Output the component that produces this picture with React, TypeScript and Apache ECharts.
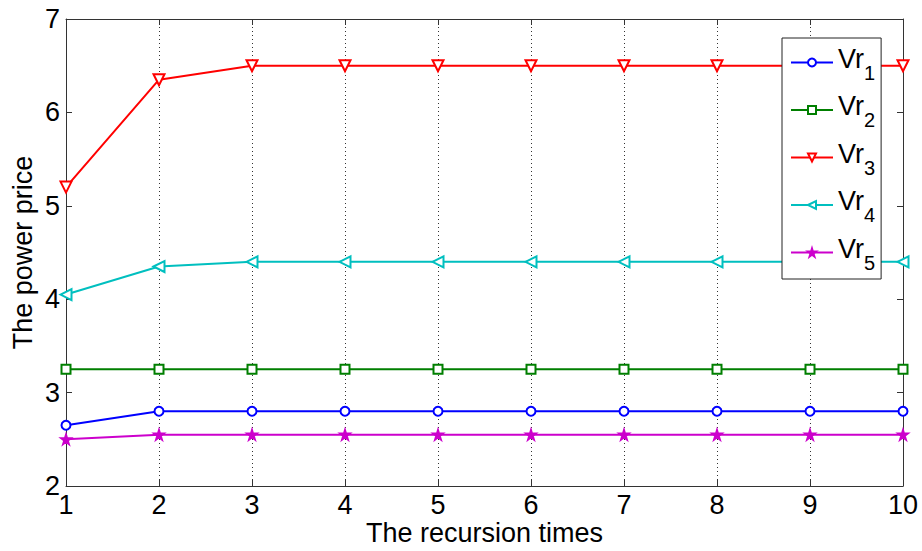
import React, { useEffect, useRef } from "react";
import * as echarts from "echarts";

const iterations = [1, 2, 3, 4, 5, 6, 7, 8, 9, 10];
const vr1 = [2.65, 2.8, 2.8, 2.8, 2.8, 2.8, 2.8, 2.8, 2.8, 2.8];
const vr2 = [3.25, 3.25, 3.25, 3.25, 3.25, 3.25, 3.25, 3.25, 3.25, 3.25];
const vr3 = [5.2, 6.35, 6.5, 6.5, 6.5, 6.5, 6.5, 6.5, 6.5, 6.5];
const vr4 = [4.05, 4.35, 4.4, 4.4, 4.4, 4.4, 4.4, 4.4, 4.4, 4.4];
const vr5 = [2.5, 2.55, 2.55, 2.55, 2.55, 2.55, 2.55, 2.55, 2.55, 2.55];
const seriesNames = ["Vr1", "Vr2", "Vr3", "Vr4", "Vr5"];
const xTitle = "The recursion times";
const yTitle = "The power price";

const FONT = "'Liberation Sans', Arial, Helvetica, sans-serif";
const STAR =
  "path://M50,0 L61,35 L98,35 L68,57 L79,91 L50,70 L21,91 L32,57 L2,35 L39,35 Z";

export default function App() {
  const ref = useRef<HTMLDivElement>(null);
  useEffect(() => {
    document.body.style.margin = "0";
    if (!ref.current) return;
    const chart = echarts.init(ref.current, null, { renderer: "svg" });
    const values = [vr1, vr2, vr3, vr4, vr5];
    const colors = ["#0000ff", "#007f00", "#ff0000", "#00bfbf", "#cc00cc"];
    const symbols = ["emptyCircle", "emptyRect", "emptyTriangle", "emptyTriangle", STAR];
    const rotates = [0, 0, 180, 90, 0];
    const sizes = [9, 9, 11, 11, 11];
    const axisLineStyle = { color: "#333", width: 1 };
    const series = values.map((vals, i) => ({
      name: seriesNames[i],
      type: "line",
      data: iterations.map((x, j) => [x, vals[j]]),
      symbol: symbols[i],
      symbolSize: sizes[i],
      symbolRotate: rotates[i],
      showAllSymbol: true,
      lineStyle: { color: colors[i], width: 2 },
      itemStyle: { color: colors[i], borderColor: colors[i], borderWidth: 1.5 },
      emphasis: { disabled: true },
      z: 3 + i,
    }));
    chart.setOption({
      animation: false,
      textStyle: { fontFamily: FONT },
      grid: {
        left: 66,
        right: 19,
        top: 19,
        bottom: 65,
        containLabel: false,
        outerBoundsMode: "none",
      },
      xAxis: [
        {
          type: "value",
          min: 1,
          max: 10,
          interval: 1,
          position: "bottom",
          name: xTitle,
          nameLocation: "middle",
          nameGap: 33,
          nameMoveOverlap: false,
          nameTextStyle: { fontSize: 27, lineHeight: 27, color: "#000", fontFamily: FONT },
          axisLine: { show: true, lineStyle: axisLineStyle },
          axisTick: { show: true, inside: true, length: 6, lineStyle: axisLineStyle },
          axisLabel: { fontSize: 27, lineHeight: 27, color: "#000", margin: 5, fontFamily: FONT },
          splitLine: { show: true, lineStyle: { color: "#333", type: [1, 3], width: 1 } },
        },
        {
          type: "value",
          min: 1,
          max: 10,
          interval: 1,
          position: "top",
          axisLine: { show: true, lineStyle: axisLineStyle },
          axisTick: { show: true, inside: true, length: 6, lineStyle: axisLineStyle },
          axisLabel: { show: false },
          splitLine: { show: false },
        },
      ],
      yAxis: [
        {
          type: "value",
          min: 2,
          max: 7,
          interval: 1,
          position: "left",
          name: yTitle,
          nameLocation: "middle",
          nameGap: 30,
          nameMoveOverlap: false,
          nameTextStyle: { fontSize: 27, lineHeight: 27, color: "#000", fontFamily: FONT },
          axisLine: { show: true, lineStyle: axisLineStyle },
          axisTick: { show: true, inside: true, length: 6, lineStyle: axisLineStyle },
          axisLabel: { fontSize: 27, lineHeight: 27, color: "#000", margin: 6, fontFamily: FONT },
          splitLine: { show: false },
        },
        {
          type: "value",
          min: 2,
          max: 7,
          interval: 1,
          position: "right",
          axisLine: { show: true, lineStyle: axisLineStyle },
          axisTick: { show: true, inside: true, length: 6, lineStyle: axisLineStyle },
          axisLabel: { show: false },
          splitLine: { show: false },
        },
      ],
      legend: {
        data: seriesNames,
        orient: "vertical",
        left: 782,
        top: 38,
        z: 50,
        padding: [4, 6, 6, 8],
        itemGap: 6.5,
        itemWidth: 42,
        itemHeight: 10,
        borderColor: "#222",
        borderWidth: 1,
        backgroundColor: "#fff",
        selectedMode: false,
        formatter: (name: string) => `{n|Vr}{s|${name.slice(2)}}`,
        textStyle: {
          color: "#000",
          fontFamily: FONT,
          fontSize: 27,
          rich: {
            n: { fontSize: 27, lineHeight: 28, padding: [3, 0, 11, 0], fontFamily: FONT, color: "#000" },
            s: { fontSize: 20, lineHeight: 22, padding: [20, 0, 0, 0], fontFamily: FONT, color: "#000" },
          },
        },
      },
      series,
    });
    return () => chart.dispose();
  }, []);
  return <div ref={ref} style={{ width: 922, height: 551 }} />;
}
